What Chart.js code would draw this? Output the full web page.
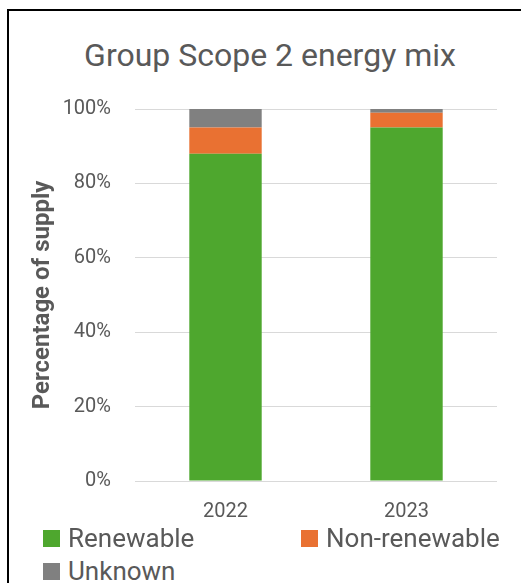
<!DOCTYPE html>
<html>
<head>
<meta charset="utf-8">
<script src="https://cdn.jsdelivr.net/npm/chart.js@4"></script>
<style>
  html, body { margin: 0; padding: 0; background: #fff; overflow: hidden; }
  #frame {
    position: absolute; left: 7px; top: 9px; width: 700px; height: 700px;
    border-top: 2px solid #000; border-left: 2px solid #000;
  }
  #title {
    position: absolute; left: 70px; width: 400px; top: 36px; line-height: 38px;
    text-align: center; font-family: Roboto, sans-serif; font-size: 32px; color: #595959;
    white-space: nowrap;
  }
  #wrap { position: absolute; left: 0; top: 0; width: 521px; height: 540px; }
  #legend {
    position: absolute; left: 43px; top: 523px; width: 470px;
    font-family: Roboto, sans-serif; font-size: 26px; color: #595959;
  }
  .item { position: absolute; display: flex; align-items: center; white-space: nowrap; }
  .box { width: 17px; height: 17px; margin-right: 8px; }
</style>
</head>
<body>
<div id="frame"></div>
<div id="title">Group Scope 2 energy mix</div>
<div id="wrap"><canvas id="mixChart"></canvas></div>
<div id="legend"></div>
<script>
"use strict";

var years = ['2022', '2023'];
var renewable = [88, 95];
var nonRenewable = [7, 4];
var unknown = [5, 1];
var yTicks = [0, 20, 40, 60, 80, 100];

var seriesNames = ['Renewable', 'Non-renewable', 'Unknown'];
var seriesColors = ['#4ea72e', '#e97132', '#808080'];

var textGray = '#595959';

document.addEventListener('DOMContentLoaded', function () {
    var ctx = document.getElementById('mixChart').getContext('2d');

    var mixChart = new Chart(ctx, {
        type: 'bar',
        data: {
            labels: years,
            datasets: [renewable, nonRenewable, unknown].map(function (vals, i) {
                return {
                    label: seriesNames[i],
                    data: vals,
                    backgroundColor: seriesColors[i],
                    borderWidth: 0,
                    barPercentage: 1,
                    categoryPercentage: 0.4
                };
            })
        },
        options: {
            responsive: true,
            maintainAspectRatio: false,
            animation: false,
            layout: {
                // top space is where the html title sits
                padding: { left: 10, right: 24, top: 109, bottom: 0 }
            },
            scales: {
                x: {
                    stacked: true,
                    grid: { display: false, drawTicks: false },
                    border: { display: false },
                    ticks: {
                        color: textGray,
                        padding: 19,
                        font: { family: 'Roboto', size: 20 }
                    },
                    afterFit: function (scale) { scale.height = 59; }
                },
                y: {
                    stacked: true,
                    min: 0,
                    max: 100,
                    afterBuildTicks: function (scale) {
                        scale.ticks = yTicks.map(function (v) { return { value: v }; });
                    },
                    grid: { color: '#d9d9d9', lineWidth: 1, drawTicks: false },
                    border: { display: false },
                    ticks: {
                        color: textGray,
                        padding: 24,
                        font: { family: 'Roboto', size: 20 },
                        callback: function (v) { return v + '%'; }
                    },
                    title: {
                        display: true,
                        text: 'Percentage of supply',
                        color: textGray,
                        padding: { top: 19, bottom: 0 },
                        font: { family: 'Roboto', size: 24, weight: 'bold' }
                    },
                    afterFit: function (scale) { scale.width = 125; }
                }
            },
            plugins: {
                legend: { display: false },
                tooltip: { enabled: false },
                title: { display: false }
            }
        }
    });

    // legend laid out like the Excel one: two columns
    var legendEl = document.getElementById('legend');
    var spots = [[0, 0], [258, 0], [0, 33]];
    mixChart.data.datasets.forEach(function (ds, i) {
        var item = document.createElement('div');
        item.className = 'item';
        item.style.left = spots[i][0] + 'px';
        item.style.top = spots[i][1] + 'px';
        var box = document.createElement('span');
        box.className = 'box';
        box.style.background = ds.backgroundColor;
        item.appendChild(box);
        item.appendChild(document.createTextNode(ds.label));
        legendEl.appendChild(item);
    });
});
</script>
</body>
</html>
